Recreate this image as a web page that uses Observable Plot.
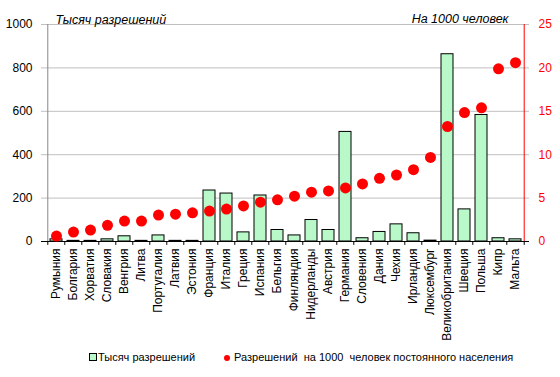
<!DOCTYPE html>
<html><head><meta charset="utf-8">
<script src="https://cdn.jsdelivr.net/npm/d3@7"></script>
<script src="https://cdn.jsdelivr.net/npm/@observablehq/plot@0.6"></script>
<style>
body{margin:0;background:#fff;font-family:"Liberation Sans",Arial,sans-serif;}
#wrap{position:relative;width:560px;height:377px;}
.leg{position:absolute;font-size:11px;color:#000;white-space:pre;}
</style></head>
<body><div id="wrap"></div>
<script>
const countries = ["Румыния","Болгария","Хорватия","Словакия","Венгрия","Литва","Португалия","Латвия","Эстония","Франция","Италия","Греция","Испания","Бельгия","Финляндия","Нидерланды","Австрия","Германия","Словения","Дания","Чехия","Ирландия","Люксембург","Великобритания","Швеция","Польша","Кипр","Мальта"];
const permits = [10,3,3,10,24,3,28,3,3,235,221,42,212,53,28,99,53,505,15,44,79,38,4,863,148,583,15,10];
const per1000 = [0.63,1.09,1.32,1.86,2.35,2.35,3.04,3.15,3.3,3.5,3.73,4.1,4.53,4.8,5.22,5.68,5.83,6.17,6.63,7.28,7.66,8.28,9.69,13.25,14.85,15.4,19.9,20.6];
const leftTicks = [0,200,400,600,800,1000];
const rightTicks = [0,5,10,15,20,25];
const titleLeft = "Тысяч разрешений";
const titleRight = "На 1000 человек";
const legend1 = "Тысяч разрешений";
const legend2 = "Разрешений  на 1000  человек постоянного населения";

const k = 1000/25;
const data = countries.map((c,i)=>({c, v: permits[i], r: per1000[i]}));
const slot = (560-41-31)/countries.length;
const first = countries[0], last = countries[countries.length-1];

const chart = Plot.plot({
  width: 560, height: 345,
  marginLeft: 41, marginRight: 31, marginTop: 24, marginBottom: 104,
  style: {fontFamily: '"Liberation Sans", Arial, sans-serif', fontSize: "12px", color: "#000"},
  x: {domain: countries, padding: 0.3, label: null},
  y: {domain: [0,1000], label: null},
  marks: [
    Plot.ruleY(leftTicks.slice(1), {stroke: "#c0c0c0", strokeWidth: 1}),
    Plot.ruleX([first], {x: d=>d, y1: 0, y2: 1000, dx: -slot/2, stroke: "#888"}),
    Plot.ruleX([last], {x: d=>d, y1: 0, y2: 1000, dx: slot/2, stroke: "red"}),
    Plot.barY(data, {x: "c", y: "v", fill: "#b8f8c9", stroke: "#000", strokeWidth: 1}),
    Plot.ruleY([0], {stroke: "#000"}),
    Plot.ruleX(countries, {x: d=>d, y1: 0, y2: -18, dx: -slot/2, stroke: "#000"}),
    Plot.ruleX([last], {x: d=>d, y1: 0, y2: -18, dx: slot/2, stroke: "#000"}),
    Plot.dot(data, {x: "c", y: d=>d.r*k, r: 5.5, fill: "red", stroke: null}),
    Plot.axisY({ticks: leftTicks, tickFormat: d=>String(d), tickSize: 0, tickPadding: 9, label: null, fontSize: 12}),
    Plot.axisY({anchor: "right", ticks: rightTicks.map(d=>d*k), tickFormat: d=>String(d/k), tickSize: 0, tickPadding: 9, label: null, fill: "red", fontSize: 12}),
    Plot.axisX({tickRotate: -90, tickSize: 0, tickPadding: 7, label: null, fontSize: 12}),
    Plot.text([titleLeft], {frameAnchor: "top-left", dx: 14, dy: -9, textAnchor: "start", fontStyle: "italic", fontSize: 12.5}),
    Plot.text([titleRight], {frameAnchor: "top-right", dx: -21, dy: -10, textAnchor: "end", fontStyle: "italic", fontSize: 12.5})
  ]
});
const wrap = document.getElementById("wrap");
wrap.appendChild(chart);
const l1 = document.createElement("div");
l1.className = "leg"; l1.style.left = "89px"; l1.style.top = "351px";
l1.innerHTML = '<span style="display:inline-block;width:6px;height:6px;border:1px solid #000;background:#b8f8c9;margin-right:1px;vertical-align:0px"></span>' + legend1;
wrap.appendChild(l1);
const l2 = document.createElement("div");
l2.className = "leg"; l2.style.left = "224px"; l2.style.top = "351px";
l2.innerHTML = '<span style="display:inline-block;width:6px;height:6px;border-radius:50%;background:red;margin-right:4px;vertical-align:0px"></span>' + legend2;
wrap.appendChild(l2);
</script></body></html>
